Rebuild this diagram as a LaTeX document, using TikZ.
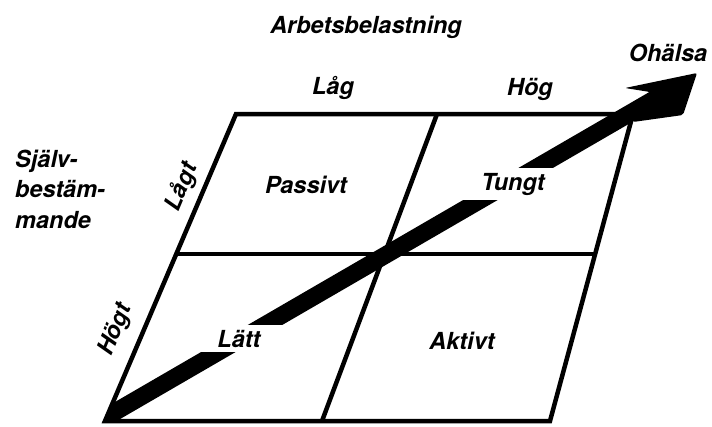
\documentclass[tikz,border=0pt]{standalone}
\usepackage{fontspec}
\setmainfont{TeX Gyre Heros}
\usetikzlibrary{calc}

\begin{document}
\begin{tikzpicture}[x=1pt,y=-1pt,line width=4.5pt,
  lbl/.style={font=\fontsize{23.5}{30.5}\selectfont\bfseries\itshape,inner sep=0pt},
  mask/.style={lbl,fill=white,inner xsep=24pt,inner ysep=4.5pt}]
  \useasboundingbox (0,0) rectangle (712,426);
  \coordinate (bl) at (105,421);
  \coordinate (tl) at (236,114);
  \coordinate (tr) at (633,114);
  \coordinate (br) at (550,421);
  \coordinate (mb) at (322,421);
  \coordinate (mt) at (437,114);
  \draw (bl) -- (tl) -- (tr) -- (br) -- cycle;
  \draw ($(bl)!.544!(tl)$) -- ($(br)!.544!(tr)$);
  \draw (mb) -- (mt);
  % the arrow
  \coordinate (tail) at (96,423);
  \coordinate (neck) at (658,97);
  \coordinate (tip) at (697,73);
  \coordinate (barbl) at (625,88);
  \coordinate (barbr) at (683,115);
  \coordinate (joinl) at (650,92);
  \coordinate (joinr) at (633,122);
  \begin{scope}
    \clip (bl) -- ($(bl)!1.5!(tl)$) -- (712,0) -- (712,421) -- cycle;
    \draw[line width=17.3pt] (tail) -- (neck);
  \end{scope}
  \fill[rounded corners=2pt] (tip) -- (barbr) -- (joinr) -- (joinl) -- (barbl) -- cycle;
  % labels
  \node[lbl,anchor=base] (title) at (366,33) {Arbetsbelastning};
  \node[lbl,anchor=base] (halsa) at (668,61) {Ohälsa};
  \node[lbl,anchor=base] (lag) at (333,94) {Låg};
  \node[lbl,anchor=base] (hog) at (530,95) {Hög};
  \node[lbl,align=left,anchor=base west] (sjalv) at (13,228) {Själv-\\bestäm-\\mande};
  \node[lbl,rotate=67] (lagt) at (182,187) {Lågt};
  \node[lbl,rotate=67] (hogt) at (116,330) {Högt};
  \node[lbl,anchor=base] (passivt) at (306,193) {Passivt};
  \node[lbl,anchor=base] (aktivt) at (462,349) {Aktivt};
  \node[mask,anchor=base] (latt) at (239,347) {Lätt};
  \node[mask,anchor=base] (tungt) at (513,190) {Tungt};
\end{tikzpicture}
\end{document}
